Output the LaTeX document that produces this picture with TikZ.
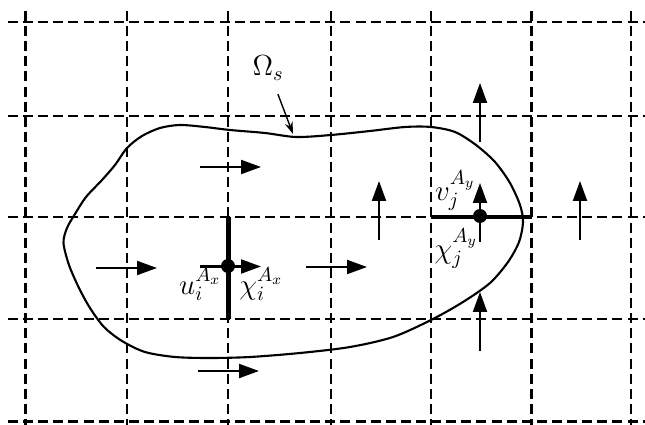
\RequirePackage{fix-cm}
\documentclass[tikz,border=0pt]{standalone}
\usetikzlibrary{arrows.meta}
\tikzset{
  gridline/.style={line width=1.2pt, dash pattern=on 5.7pt off 2.9pt},
  boundary/.style={line width=1.2pt},
  face/.style={line width=2.5pt},
  flux/.style={-{Triangle[length=4mm,width=2.8mm]}, line width=1.2pt},
  unknown/.style={circle, fill, inner sep=0pt, minimum size=0.28cm},
  symb/.style={inner sep=0pt, font=\fontsize{16.5}{20}\selectfont},
  pointer/.style={-{Stealth[length=2.4mm,width=1.6mm]}, line width=0.8pt}
}
\begin{document}
\begin{tikzpicture}[x=0.02cm,y=-0.02cm]
  \useasboundingbox (0,0) rectangle (645,425);
  % Cartesian grid
  \foreach \gx in {25.5,126.7,228.3,331,431,531.5,631.4}
    \draw[gridline] (\gx,11) -- (\gx,425);
  \foreach \gy in {22,116,217,319,421.5}
    \draw[gridline] (8,\gy) -- (645,\gy);
  % solid domain
  \draw[boundary] plot[smooth cycle, tension=0.5] coordinates {
    (63.5,243) (67,228) (75,214) (86,197) (102,180) (115,165) (127,148)
    (142,136) (160,128) (180,125) (205,127) (230,130) (265,133)
    (296,137) (331,135) (370,131) (405,127) (431,127) (455,132)
    (476,145) (495,162) (510,183) (520,205) (523,222) (519,242)
    (508,262) (490,283) (463,302) (431,320) (393,337) (350,347)
    (300,353) (250,357) (210,358) (175,357) (145,352) (122,341)
    (104,327) (90,308) (79,288) (69,265)};
  % faces carrying the unknowns
  \draw[face] (228.3,217) -- (228.3,319);
  \draw[face] (431,217) -- (531.5,217);
  % x- and y-fluxes
  \foreach \ax/\ay in {200/167,96/268,200/266.5,306/267,198/371}
    \draw[flux] (\ax,\ay) -- ++(61,0);
  \foreach \ax/\ay in {379/240,480/142,480/242,480/351,580/240}
    \draw[flux] (\ax,\ay) -- ++(0,-59);
  \node[unknown] (ux) at (228,266) {};
  \node[unknown] (vy) at (480,216) {};
  \node[symb] (ulab) at (200,284) {$u_i^{A_x}$};
  \node[symb] (chix) at (261,284) {$\chi_i^{A_x}$};
  \node[symb] (vlab) at (455,191) {$v_j^{A_y}$};
  \node[symb] (chiy) at (456,249) {$\chi_j^{A_y}$};
  % boundary label
  \node[symb] (omega) at (268,68) {$\Omega_s$};
  \coordinate (omegatip) at (293,134);
  \draw[pointer, shorten <=0.56cm] (omega.center) -- (omegatip);
\end{tikzpicture}
\end{document}
